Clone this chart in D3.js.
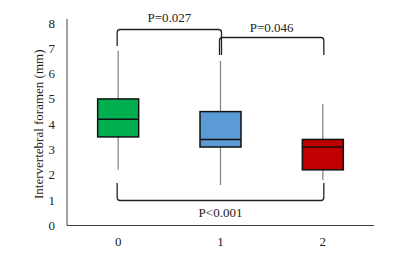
<!DOCTYPE html>
<html>
<head>
<meta charset="utf-8">
<script src="https://cdn.jsdelivr.net/npm/d3@7"></script>
<style>
  body { margin: 0; background: #fff; }
  text { font-family: 'Liberation Serif', 'Times New Roman', serif; }
</style>
</head>
<body>
<script>
// data
const groups = ['0', '1', '2']
const whiskerLow = [2.2, 1.6, 1.8]
const q1 = [3.5, 3.1, 2.2]
const median = [4.2, 3.4, 3.1]
const q3 = [5.0, 4.5, 3.4]
const whiskerHigh = [6.9, 6.5, 4.8]
const boxColours = ['#00b050', '#5b9bd5', '#c00000']
const yTicks = [0, 1, 2, 3, 4, 5, 6, 7, 8]
// comparisons: [from, to, label]
const pairs = [['0', '1', 'P=0.027'], ['1', '2', 'P=0.046'], ['0', '2', 'P<0.001']]

const W = 400, H = 261
const plotLeft = 67, plotRight = 374, plotTop = 23, plotBottom = 225.5

const svg = d3.select(document.body).append('svg')
  .attr('width', W)
  .attr('height', H)
  .attr('xmlns', 'http://www.w3.org/2000/svg')

const x = d3.scaleBand().domain(groups).range([plotLeft, plotRight])
const y = d3.scaleLinear().domain([0, 8]).range([plotBottom, plotTop])
const cx = g => x(g) + x.bandwidth() / 2
const boxW = 41

// axes
svg.append('line')
  .attr('x1', plotLeft).attr('x2', plotLeft).attr('y1', y(8) - 4).attr('y2', plotBottom)
  .attr('stroke', '#404040').attr('stroke-width', 1)
svg.append('line')
  .attr('x1', plotLeft).attr('x2', plotRight).attr('y1', plotBottom).attr('y2', plotBottom)
  .attr('stroke', '#404040').attr('stroke-width', 1)

svg.selectAll('.ytick').data(yTicks).join('text')
  .attr('class', 'ytick')
  .attr('x', 55).attr('y', d => y(d) + 4.5)
  .attr('text-anchor', 'end')
  .attr('font-size', 13)
  .attr('fill', '#222')
  .text(d => d)

svg.selectAll('.xlab').data(groups).join('text')
  .attr('class', 'xlab')
  .attr('x', d => cx(d)).attr('y', 246)
  .attr('text-anchor', 'middle')
  .attr('font-size', 13)
  .attr('fill', '#222')
  .text(d => d)

svg.append('text')
  .attr('transform', `translate(42.5,${(plotTop + plotBottom) / 2}) rotate(-90)`)
  .attr('text-anchor', 'middle')
  .attr('font-size', 13)
  .attr('fill', '#222')
  .text('Intervertebral foramen (mm)')

// boxes
groups.forEach((g, i) => {
  const c = cx(g)
  svg.append('line')
    .attr('x1', c).attr('x2', c).attr('y1', y(whiskerHigh[i])).attr('y2', y(q3[i]))
    .attr('stroke', '#7f7f7f').attr('stroke-width', 1.2)
  svg.append('line')
    .attr('x1', c).attr('x2', c).attr('y1', y(q1[i])).attr('y2', y(whiskerLow[i]))
    .attr('stroke', '#7f7f7f').attr('stroke-width', 1.2)
  svg.append('rect')
    .attr('x', c - boxW / 2).attr('y', y(q3[i]))
    .attr('width', boxW).attr('height', y(q1[i]) - y(q3[i]))
    .attr('fill', boxColours[i]).attr('stroke', '#111').attr('stroke-width', 1.5)
  svg.append('line')
    .attr('x1', c - boxW / 2).attr('x2', c + boxW / 2)
    .attr('y1', y(median[i])).attr('y2', y(median[i]))
    .attr('stroke', '#111').attr('stroke-width', 1.5)
})

// significance brackets
function bracket(x1, x2, yBar, yEnd1, yEnd2) {
  const r = 3
  const dir1 = Math.sign(yEnd1 - yBar), dir2 = Math.sign(yEnd2 - yBar)
  return `M${x1},${yEnd1} L${x1},${yBar + dir1 * r} Q${x1},${yBar} ${x1 + r},${yBar}` +
    ` L${x2 - r},${yBar} Q${x2},${yBar} ${x2},${yBar + dir2 * r} L${x2},${yEnd2}`
}
const brackets = [
  { yBar: 29.5, e1: 46, e2: 55, ty: 22 },
  { yBar: 37.5, e1: 55, e2: 55, ty: 31.5 },
  { yBar: 200.5, e1: 183, e2: 183, ty: 216.5 }
]
pairs.forEach(([a, b, label], i) => {
  const bk = brackets[i]
  const x1 = cx(a) - 1, x2 = cx(b) + 1
  svg.append('path')
    .attr('d', bracket(x1, x2, bk.yBar, bk.e1, bk.e2))
    .attr('fill', 'none').attr('stroke', '#222').attr('stroke-width', 1.3)
  svg.append('text')
    .attr('x', (x1 + x2) / 2).attr('y', bk.ty)
    .attr('text-anchor', 'middle')
    .attr('font-size', 13)
    .attr('fill', '#222')
    .text(label)
})
</script>
</body>
</html>
